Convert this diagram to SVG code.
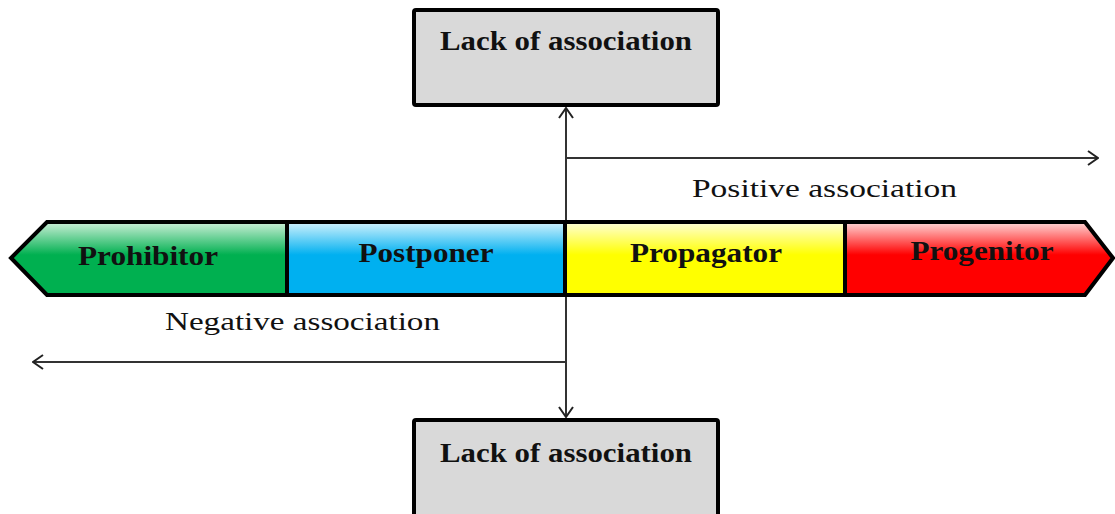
<svg xmlns="http://www.w3.org/2000/svg" width="1115" height="514" viewBox="0 0 1115 514">
<style>
.box{fill:#D9D9D9;stroke:#000;stroke-width:4}
.seg{stroke:#000;stroke-width:4;stroke-linejoin:miter}
.lbl{font-family:"Liberation Serif",serif;font-weight:bold;font-size:28px;fill:#111;text-anchor:middle}
.lbl2{font-family:"Liberation Serif",serif;font-size:25px;fill:#111}
.con{stroke:#333;stroke-width:2;fill:none}
</style>
<defs>
<linearGradient id="gG" x1="0" y1="0" x2="0" y2="1"><stop offset="0" stop-color="#CDEFD8"/><stop offset="0.45" stop-color="#00B050"/><stop offset="1" stop-color="#00B050"/></linearGradient>
<linearGradient id="gB" x1="0" y1="0" x2="0" y2="1"><stop offset="0" stop-color="#D2F2FD"/><stop offset="0.45" stop-color="#00B0F0"/><stop offset="1" stop-color="#00B0F0"/></linearGradient>
<linearGradient id="gY" x1="0" y1="0" x2="0" y2="1"><stop offset="0" stop-color="#FFFFD8"/><stop offset="0.45" stop-color="#FFFF00"/><stop offset="1" stop-color="#FFFF00"/></linearGradient>
<linearGradient id="gR" x1="0" y1="0" x2="0" y2="1"><stop offset="0" stop-color="#FFD8D8"/><stop offset="0.45" stop-color="#FF0000"/><stop offset="1" stop-color="#FF0000"/></linearGradient>
<marker id="arr" viewBox="0 0 12 16" refX="11" refY="8" markerWidth="12" markerHeight="16" markerUnits="userSpaceOnUse" orient="auto">
<path d="M1,1 L11,8 L1,15" fill="none" stroke="#222" stroke-width="2"/>
</marker>
</defs>
<g id="connectors">
<line class="con" x1="566" y1="417" x2="566" y2="108" marker-end="url(#arr)"/>
<line class="con" x1="566" y1="222" x2="566" y2="417" marker-end="url(#arr)"/>
<line class="con" x1="566" y1="158" x2="1098" y2="158" marker-end="url(#arr)"/>
<line class="con" x1="566" y1="362" x2="33" y2="362" marker-end="url(#arr)"/>
</g>
<g id="lack-top">
<rect class="box" x="414" y="10" width="304" height="95" rx="2"/>
<text class="lbl" x="566" y="50" textLength="252" lengthAdjust="spacingAndGlyphs" font-size="27">Lack of association</text>
</g>
<g id="lack-bottom">
<rect class="box" x="414" y="420" width="304" height="100" rx="2"/>
<text class="lbl" x="566" y="462" textLength="252" lengthAdjust="spacingAndGlyphs" font-size="27">Lack of association</text>
</g>
<g id="positive-label">
<text class="lbl2" x="692" y="197" textLength="265" lengthAdjust="spacingAndGlyphs">Positive association</text>
</g>
<g id="negative-label">
<text class="lbl2" x="165" y="330" textLength="275" lengthAdjust="spacingAndGlyphs">Negative association</text>
</g>
<g id="prohibitor">
<path class="seg" fill="url(#gG)" d="M287,222 L47,222 L11,258 L47,295 L287,295 Z"/>
<text class="lbl" x="148" y="265" textLength="140" lengthAdjust="spacingAndGlyphs">Prohibitor</text>
</g>
<g id="postponer">
<rect class="seg" fill="url(#gB)" x="287" y="222" width="278" height="73"/>
<text class="lbl" x="426" y="262" textLength="135" lengthAdjust="spacingAndGlyphs">Postponer</text>
</g>
<g id="propagator">
<rect class="seg" fill="url(#gY)" x="565" y="222" width="280" height="73"/>
<text class="lbl" x="706" y="262" textLength="152" lengthAdjust="spacingAndGlyphs">Propagator</text>
</g>
<g id="progenitor">
<path class="seg" fill="url(#gR)" d="M845,222 L1085,222 L1113,258 L1085,295 L845,295 Z"/>
<text class="lbl" x="982" y="260" textLength="143" lengthAdjust="spacingAndGlyphs">Progenitor</text>
</g>
</svg>
